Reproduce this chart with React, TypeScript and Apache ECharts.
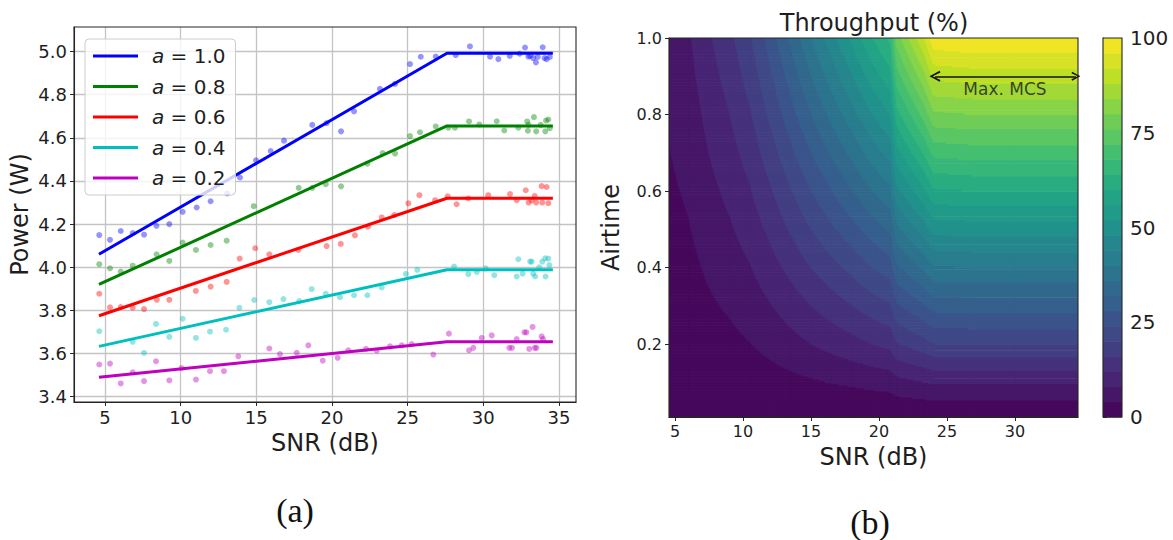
import React, { useEffect, useRef } from "react";
import * as echarts from "echarts";

const FONT = "'DejaVu Sans', 'Noto Sans', sans-serif";
const SERIF = "'Liberation Serif', 'DejaVu Serif', serif";
const INK = "#1e1e1e";

// ---------------- (a) Power vs SNR ----------------
const POWER_SERIES_NAMES = ["a = 1.0", "a = 0.8", "a = 0.6", "a = 0.4", "a = 0.2"];
const POWER_COLORS = ["#0000ff", "#008000", "#ff0000", "#00bfbf", "#bf00bf"];

const FIT_SNR = [4.6, 27.6, 34.6];
const FIT_A10 = [4.06, 4.992, 4.992];
const FIT_A08 = [3.92, 4.655, 4.655];
const FIT_A06 = [3.775, 4.32, 4.32];
const FIT_A04 = [3.633, 3.988, 3.988];
const FIT_A02 = [3.49, 3.654, 3.654];

const MEAS_A10 = [
  [4.62, 4.149], [5.33, 4.127], [6.04, 4.168], [6.83, 4.158], [7.58, 4.151], [8.4, 4.192],
  [9.25, 4.2], [10.13, 4.257], [11.06, 4.277], [11.98, 4.306], [13.08, 4.342], [13.92, 4.416],
  [14.98, 4.496], [15.95, 4.539], [16.83, 4.587], [18.7, 4.66], [19.65, 4.668], [20.6, 4.63],
  [21.46, 4.723], [23.17, 4.827], [24.17, 4.85], [25.16, 4.942], [25.87, 4.976], [26.86, 4.977],
  [28.18, 4.984], [29.12, 5.024], [30.45, 4.976], [31.0, 4.965], [31.75, 4.98], [32.4, 4.99],
  [32.76, 5.019], [32.98, 4.977], [33.1, 4.98], [33.3, 4.97], [33.48, 4.95], [33.6, 4.975],
  [33.93, 5.02], [34.05, 4.97], [34.19, 4.965], [34.4, 4.975],
];
const MEAS_A08 = [
  [4.62, 4.014], [5.33, 3.995], [6.04, 3.98], [6.83, 4.007], [8.41, 4.06], [9.25, 4.029],
  [10.13, 4.114], [11.01, 4.08], [11.98, 4.103], [13.04, 4.123], [14.83, 4.283], [17.8, 4.368],
  [18.7, 4.368], [19.59, 4.385], [20.6, 4.375], [22.34, 4.48], [23.35, 4.529], [24.17, 4.527],
  [25.16, 4.608], [25.82, 4.626], [26.86, 4.653], [27.69, 4.647], [28.13, 4.647], [29.06, 4.676],
  [29.74, 4.662], [30.89, 4.677], [31.39, 4.634], [32.32, 4.647], [32.9, 4.676], [32.95, 4.633],
  [33.0, 4.66], [33.35, 4.696], [33.5, 4.63], [33.8, 4.66], [34.1, 4.63], [34.15, 4.68],
  [34.3, 4.685], [34.4, 4.645],
];
const MEAS_A06 = [
  [4.62, 3.877], [5.33, 3.814], [6.04, 3.815], [6.83, 3.812], [7.58, 3.806], [8.42, 3.849],
  [9.25, 3.849], [11.0, 3.89], [11.98, 3.91], [13.04, 3.932], [13.9, 4.04], [14.93, 4.088],
  [15.86, 4.06], [17.78, 4.08], [19.65, 4.098], [20.58, 4.108], [21.52, 4.148], [22.38, 4.188],
  [23.29, 4.231], [24.12, 4.242], [25.05, 4.296], [25.78, 4.334], [26.82, 4.311], [27.65, 4.329],
  [28.24, 4.292], [29.01, 4.319], [30.33, 4.334], [31.77, 4.339], [32.21, 4.311], [32.81, 4.357],
  [33.0, 4.3], [33.2, 4.31], [33.4, 4.33], [33.5, 4.3], [33.86, 4.376], [33.9, 4.3],
  [34.19, 4.372], [34.3, 4.297],
];
const MEAS_A04 = [
  [4.62, 3.703], [6.83, 3.654], [7.58, 3.603], [8.37, 3.737], [9.25, 3.677], [10.13, 3.761],
  [11.01, 3.672], [11.94, 3.701], [13.0, 3.71], [13.88, 3.812], [14.86, 3.848], [15.86, 3.838],
  [16.79, 3.852], [17.84, 3.843], [18.66, 3.898], [19.59, 3.877], [20.53, 3.861], [21.46, 3.87],
  [22.34, 3.87], [23.29, 3.906], [24.89, 3.969], [25.64, 3.988], [28.07, 4.003], [29.01, 3.968],
  [29.57, 3.978], [30.16, 3.995], [30.73, 3.963], [32.21, 3.957], [32.32, 4.037], [32.6, 3.97],
  [33.1, 4.026], [33.2, 4.026], [33.3, 3.97], [33.43, 3.957], [33.7, 4.0], [33.9, 4.026],
  [34.09, 4.041], [34.12, 3.957], [34.3, 4.04], [34.37, 4.01],
];
const MEAS_A02 = [
  [4.62, 3.549], [5.33, 3.553], [6.04, 3.461], [6.83, 3.513], [7.58, 3.472], [8.37, 3.564],
  [9.25, 3.475], [10.06, 3.532], [11.01, 3.479], [11.94, 3.518], [12.86, 3.518], [13.81, 3.587],
  [15.86, 3.623], [16.56, 3.597], [17.67, 3.603], [18.44, 3.638], [19.39, 3.567], [20.38, 3.58],
  [21.08, 3.615], [22.25, 3.621], [22.96, 3.613], [23.84, 3.633], [24.61, 3.638], [25.27, 3.644],
  [26.7, 3.595], [27.73, 3.692], [29.06, 3.615], [29.34, 3.626], [29.9, 3.672], [30.56, 3.684],
  [31.72, 3.626], [31.9, 3.626], [32.21, 3.667], [32.72, 3.698], [32.85, 3.698], [33.04, 3.621],
  [33.26, 3.723], [33.4, 3.626], [33.52, 3.626], [33.86, 3.679], [33.95, 3.667],
];

const FITS = [FIT_A10, FIT_A08, FIT_A06, FIT_A04, FIT_A02];
const MEAS = [MEAS_A10, MEAS_A08, MEAS_A06, MEAS_A04, MEAS_A02];

const POWER_X_TICKS = [5, 10, 15, 20, 25, 30, 35];
const POWER_Y_TICKS = [3.4, 3.6, 3.8, 4.0, 4.2, 4.4, 4.6, 4.8, 5.0];
const POWER_X_RANGE = [2.95, 36.13];
const POWER_Y_RANGE = [3.375, 5.114];

// ---------------- (b) Throughput map ----------------
const HM_SNR = [4.56, 6, 7.5, 9, 10.5, 12, 13.5, 15, 16.5, 18, 19.5, 20.8, 21.3, 22.3, 23.3, 24, 27, 30, 34.64];
const HM_AIRTIME = [0.01, 0.1, 0.2, 0.3, 0.4, 0.5, 0.6, 0.7, 0.8, 0.9, 1.0];
// rows follow HM_AIRTIME (bottom to top), columns follow HM_SNR
const THROUGHPUT = [
  [0, 0, 0, 0, 0, 0, 0, 0, 0, 0, 0, 0, 0, 0, 0, 0, 0, 0, 0],
  [0.5, 0.7, 1.0, 1.3, 1.7, 2.3, 2.9, 3.5, 4.1, 4.6, 5.2, 5.6, 6.7, 7.3, 7.9, 8.5, 8.5, 8.5, 8.5],
  [1.1, 1.5, 2.3, 3.0, 3.9, 5.2, 6.6, 8.0, 9.3, 10.6, 12.0, 13.0, 15.6, 17.0, 18.4, 19.8, 20, 20, 20],
  [1.7, 2.3, 3.5, 4.5, 5.9, 7.8, 9.9, 12.0, 14.0, 15.9, 18.0, 19.5, 23.4, 25.5, 27.6, 29.7, 30, 30, 30],
  [2.2, 3.0, 4.6, 6.0, 7.8, 10.4, 13.2, 16.0, 18.6, 21.2, 24.0, 26.0, 31.2, 34.0, 36.8, 39.6, 40, 40, 40],
  [2.8, 3.8, 5.8, 7.5, 9.8, 13.0, 16.5, 20.0, 23.3, 26.5, 30.0, 32.5, 39.0, 42.5, 46.0, 49.5, 50, 50, 50],
  [3.4, 4.5, 6.9, 9.0, 11.7, 15.6, 19.8, 24.0, 27.9, 31.8, 36.0, 39.0, 46.8, 51.0, 55.2, 59.4, 60, 60, 60],
  [3.9, 5.3, 8.1, 10.5, 13.7, 18.2, 23.1, 28.0, 32.6, 37.1, 42.0, 45.5, 54.6, 59.5, 64.4, 69.3, 70, 70, 70],
  [4.5, 6.0, 9.2, 12.0, 15.6, 20.8, 26.4, 32.0, 37.2, 42.4, 48.0, 52.0, 62.4, 68.0, 73.6, 79.2, 80, 80, 80],
  [5.0, 6.8, 10.4, 13.5, 17.6, 23.4, 29.7, 36.0, 41.9, 47.7, 54.0, 58.5, 70.2, 76.5, 82.8, 89.1, 90, 90, 90],
  [5.6, 7.5, 11.5, 15.0, 19.5, 26.0, 33.0, 40.0, 46.5, 53.0, 60.0, 65.0, 78.0, 85.0, 92.0, 99.0, 100, 100, 100],
];
const LEVELS = [0, 4, 8, 12, 16, 20, 24, 28, 32, 36, 40, 44, 48, 52, 56, 60, 64, 68, 72, 76, 80, 84, 88, 92, 96, 100];
const CB_TICKS = [0, 25, 50, 75, 100];
const HM_X_TICKS = [5, 10, 15, 20, 25, 30];
const HM_Y_TICKS = [0.2, 0.4, 0.6, 0.8, 1.0];
const HM_X_RANGE = [4.56, 34.64];
const HM_Y_RANGE = [0.01, 1.0];
const MCS_SNR = [24.12, 34.49];
const MCS_AIRTIME = 0.9;
const MCS_LABEL_POS = [29.27, 0.867];

const VIRIDIS_STOPS = ["#440154", "#482475", "#414487", "#355f8d", "#2a788e", "#21918c", "#22a884", "#44bf70", "#7ad151", "#bddf26", "#fde725"];

function hexToRgb(h: string) {
  return [parseInt(h.slice(1, 3), 16), parseInt(h.slice(3, 5), 16), parseInt(h.slice(5, 7), 16)];
}
function viridis(t: number): string {
  const n = VIRIDIS_STOPS.length - 1;
  const s = Math.max(0, Math.min(1, t)) * n;
  const i = Math.min(Math.floor(s), n - 1);
  const f = s - i;
  const a = hexToRgb(VIRIDIS_STOPS[i]);
  const b = hexToRgb(VIRIDIS_STOPS[i + 1]);
  const c = [0, 1, 2].map((k) => Math.round(a[k] + (b[k] - a[k]) * f));
  return `rgb(${c[0]},${c[1]},${c[2]})`;
}
const LMIN = LEVELS[0];
const LMAX = LEVELS[LEVELS.length - 1];
const BAND_COLORS = LEVELS.slice(0, -1).map((l, k) => viridis(((l + LEVELS[k + 1]) / 2 - LMIN) / (LMAX - LMIN)));

function bandOf(v: number): number {
  for (let k = LEVELS.length - 2; k >= 0; k--) if (v >= LEVELS[k]) return k;
  return 0;
}

const HEAT_CELLS: number[][] = [];
for (let i = 0; i < HM_AIRTIME.length - 1; i++) {
  for (let j = 0; j < HM_SNR.length - 1; j++) {
    HEAT_CELLS.push([
      HM_SNR[j], HM_SNR[j + 1], HM_AIRTIME[i], HM_AIRTIME[i + 1],
      THROUGHPUT[i][j], THROUGHPUT[i][j + 1], THROUGHPUT[i + 1][j], THROUGHPUT[i + 1][j + 1],
    ]);
  }
}
const CB_CELLS = LEVELS.slice(0, -1).map((l, k) => [0, 1, l, LEVELS[k + 1], k]);

function renderHeatCell(params: any, api: any) {
  const x0 = api.value(0), x1 = api.value(1), y0 = api.value(2), y1 = api.value(3);
  const vBL = api.value(4), vBR = api.value(5), vTL = api.value(6), vTR = api.value(7);
  const pBL = api.coord([x0, y0]);
  const pTR = api.coord([x1, y1]);
  const left = pBL[0], right = pTR[0], bottom = pBL[1], top = pTR[1];
  const w = right - left, h = bottom - top;
  const rows = Math.max(1, Math.ceil(h / 1.5));
  const children: any[] = [];
  for (let r = 0; r < rows; r++) {
    const ty0 = top + (h * r) / rows;
    const ty1 = top + (h * (r + 1)) / rows;
    const fy = 1 - ((ty0 + ty1) / 2 - top) / h;
    const vl = vBL + (vTL - vBL) * fy;
    const vr = vBR + (vTR - vBR) * fy;
    const bl = bandOf(vl), br = bandOf(vr);
    const push = (xs: number, xe: number, k: number) => {
      children.push({
        type: "rect",
        silent: true,
        shape: { x: xs, y: ty0, width: xe - xs + 0.7, height: ty1 - ty0 + 0.7 },
        style: { fill: BAND_COLORS[k] },
      });
    };
    if (bl === br) {
      push(left, right, bl);
    } else {
      const step = br > bl ? 1 : -1;
      let xs = left;
      let k = bl;
      while (k !== br) {
        const boundary = step > 0 ? LEVELS[k + 1] : LEVELS[k];
        const t = (boundary - vl) / (vr - vl);
        const xe = left + w * t;
        push(xs, xe, k);
        xs = xe;
        k += step;
      }
      push(xs, right, br);
    }
  }
  return { type: "group", children };
}

function renderCbCell(params: any, api: any) {
  const p0 = api.coord([api.value(0), api.value(2)]);
  const p1 = api.coord([api.value(1), api.value(3)]);
  return {
    type: "rect",
    shape: { x: p0[0], y: p1[1], width: p1[0] - p0[0], height: p0[1] - p1[1] + 0.6 },
    style: { fill: BAND_COLORS[api.value(4)] },
  };
}

function renderFrame(params: any) {
  const c = params.coordSys;
  return {
    type: "rect",
    silent: true,
    shape: { x: c.x, y: c.y, width: c.width, height: c.height },
    style: { fill: "none", stroke: "#262626", lineWidth: 1.1 },
  };
}

const CHEVRON = "path://M0,10 L5,0 L10,10 L8.4,10.8 L5,3.2 L1.6,10.8 Z";

function axisCommon(fontSize: number) {
  return {
    axisLine: { show: true, lineStyle: { color: "#262626", width: 1.1 } },
    axisLabel: { color: INK, fontSize, fontFamily: FONT },
    nameTextStyle: { color: INK, fontSize: 24, fontFamily: FONT },
  };
}

function buildOption(): any {
  const series: any[] = [];
  MEAS.forEach((pts, i) => {
    series.push({
      type: "scatter",
      name: "meas " + POWER_SERIES_NAMES[i],
      xAxisIndex: 0,
      yAxisIndex: 0,
      data: pts,
      symbolSize: 6,
      itemStyle: { color: POWER_COLORS[i], opacity: 0.42 },
      z: 2,
      silent: true,
    });
  });
  FITS.forEach((fit, i) => {
    series.push({
      type: "line",
      name: POWER_SERIES_NAMES[i],
      xAxisIndex: 0,
      yAxisIndex: 0,
      data: FIT_SNR.map((x, k) => [x, fit[k]]),
      showSymbol: false,
      symbol: "none",
      lineStyle: { color: POWER_COLORS[i], width: 3 },
      itemStyle: { color: POWER_COLORS[i] },
      z: 3,
      silent: true,
    });
  });
  series.push({
    type: "custom",
    name: "throughput",
    xAxisIndex: 1,
    yAxisIndex: 1,
    data: HEAT_CELLS,
    encode: { x: [0, 1], y: [2, 3] },
    renderItem: renderHeatCell,
    clip: true,
    silent: true,
    z: 1,
  });
  series.push({
    type: "lines",
    coordinateSystem: "cartesian2d",
    xAxisIndex: 1,
    yAxisIndex: 1,
    data: [{ coords: [[MCS_SNR[0], MCS_AIRTIME], [MCS_SNR[1], MCS_AIRTIME]] }],
    symbol: [CHEVRON, CHEVRON],
    symbolSize: [11, 9],
    lineStyle: { color: "#111111", width: 1.7, opacity: 1, curveness: 0 },
    silent: true,
    z: 5,
  });
  series.push({
    type: "scatter",
    name: "mcs label",
    xAxisIndex: 1,
    yAxisIndex: 1,
    data: [MCS_LABEL_POS],
    symbol: "circle",
    symbolSize: 2,
    itemStyle: { color: "rgba(0,0,0,0)" },
    label: {
      show: true,
      position: "inside",
      formatter: "Max. MCS",
      color: "#1a1a1a",
      fontSize: 17,
      fontFamily: FONT,
    },
    silent: true,
    z: 6,
  });
  series.push({
    type: "custom",
    xAxisIndex: 2,
    yAxisIndex: 2,
    data: CB_CELLS,
    encode: { x: [0, 1], y: [2, 3] },
    renderItem: renderCbCell,
    silent: true,
    z: 1,
  });
  [0, 1, 2].forEach((g) => {
    series.push({
      type: "custom",
      xAxisIndex: g,
      yAxisIndex: g,
      data: [[0, 0]],
      renderItem: renderFrame,
      silent: true,
      z: 10,
    });
  });

  return {
    animation: false,
    backgroundColor: "#ffffff",
    grid: [
      { left: 74, top: 27, width: 502, height: 375 },
      { left: 669, top: 38, width: 409, height: 379 },
      { left: 1103, top: 38, width: 19, height: 379 },
    ],
    xAxis: [
      {
        type: "value",
        gridIndex: 0,
        min: POWER_X_RANGE[0],
        max: POWER_X_RANGE[1],
        name: "SNR (dB)",
        nameLocation: "middle",
        nameGap: 26,
        ...axisCommon(18),
        axisTick: { show: true, customValues: POWER_X_TICKS, length: 4, lineStyle: { color: "#262626" } },
        axisLabel: { color: INK, fontSize: 18, fontFamily: FONT, margin: 6, customValues: POWER_X_TICKS, formatter: (v: number) => String(Math.round(v)) },
        splitLine: { show: true, lineStyle: { color: "#c4c4c4", width: 1.3 } },
      },
      {
        type: "value",
        gridIndex: 1,
        min: HM_X_RANGE[0],
        max: HM_X_RANGE[1],
        name: "SNR (dB)",
        nameLocation: "middle",
        nameGap: 28,
        ...axisCommon(16),
        axisTick: { show: true, customValues: HM_X_TICKS, length: 4, lineStyle: { color: "#262626" } },
        axisLabel: { color: INK, fontSize: 16, fontFamily: FONT, margin: 6, customValues: HM_X_TICKS, formatter: (v: number) => String(Math.round(v)) },
        splitLine: { show: false },
      },
      {
        type: "value",
        gridIndex: 2,
        min: 0,
        max: 1,
        show: false,
      },
    ],
    yAxis: [
      {
        type: "value",
        gridIndex: 0,
        min: POWER_Y_RANGE[0],
        max: POWER_Y_RANGE[1],
        name: "Power (W)",
        nameLocation: "middle",
        nameGap: 42,
        ...axisCommon(18),
        axisTick: { show: true, customValues: POWER_Y_TICKS, length: 4, lineStyle: { color: "#262626" } },
        axisLabel: { color: INK, fontSize: 18, fontFamily: FONT, margin: 7, customValues: POWER_Y_TICKS, formatter: (v: number) => v.toFixed(1) },
        splitLine: { show: true, lineStyle: { color: "#c4c4c4", width: 1.3 } },
      },
      {
        type: "value",
        gridIndex: 1,
        min: HM_Y_RANGE[0],
        max: HM_Y_RANGE[1],
        name: "Airtime",
        nameLocation: "middle",
        nameGap: 46,
        ...axisCommon(16),
        axisTick: { show: true, customValues: HM_Y_TICKS, length: 4, lineStyle: { color: "#262626" } },
        axisLabel: { color: INK, fontSize: 16, fontFamily: FONT, margin: 7, customValues: HM_Y_TICKS, formatter: (v: number) => v.toFixed(1) },
        splitLine: { show: false },
      },
      {
        type: "value",
        gridIndex: 2,
        position: "right",
        min: 0,
        max: 100,
        interval: 25,
        ...axisCommon(20),
        axisTick: { show: true, customValues: CB_TICKS, length: 4, lineStyle: { color: "#262626" } },
        axisLabel: { color: INK, fontSize: 20, fontFamily: FONT, margin: 8, customValues: CB_TICKS },
        splitLine: { show: false },
      },
    ],
    legend: {
      data: POWER_SERIES_NAMES,
      orient: "vertical",
      left: 85,
      top: 39,
      icon: "rect",
      itemWidth: 45,
      itemHeight: 3,
      itemGap: 8.5,
      padding: [6, 10, 6, 8],
      backgroundColor: "rgba(255,255,255,0.8)",
      borderColor: "#cccccc",
      borderWidth: 1,
      borderRadius: 4,
      selectedMode: false,
      formatter: (name: string) => `{i|a}{t|${name.slice(1)}}`,
      textStyle: {
        color: INK,
        fontSize: 20,
        fontFamily: FONT,
        lineHeight: 22,
        padding: [0, 0, 0, 9],
        rich: {
          i: { fontStyle: "italic", fontSize: 20, fontFamily: FONT, color: INK, lineHeight: 22 },
          t: { fontSize: 20, fontFamily: FONT, color: INK, lineHeight: 22 },
        },
      },
    },
    graphic: [
      {
        type: "text",
        x: 874,
        y: 23,
        style: { text: "Throughput (%)", fontSize: 24, fontFamily: FONT, fill: INK, align: "center", verticalAlign: "middle" },
      },
      {
        type: "text",
        x: 295,
        y: 510,
        style: { text: "(a)", fontSize: 34, fontFamily: SERIF, fill: "#111", align: "center", verticalAlign: "middle" },
      },
      {
        type: "text",
        x: 870,
        y: 522,
        style: { text: "(b)", fontSize: 34, fontFamily: SERIF, fill: "#111", align: "center", verticalAlign: "middle" },
      },
    ],
    series,
  };
}

export default function App() {
  const ref = useRef<HTMLDivElement>(null);
  useEffect(() => {
    document.body.style.margin = "0";
    if (!ref.current) return;
    const chart = echarts.init(ref.current, undefined, { renderer: "svg" });
    chart.setOption(buildOption());
    return () => {
      chart.dispose();
    };
  }, []);
  return <div ref={ref} style={{ width: 1173, height: 540, background: "#fff" }} />;
}
